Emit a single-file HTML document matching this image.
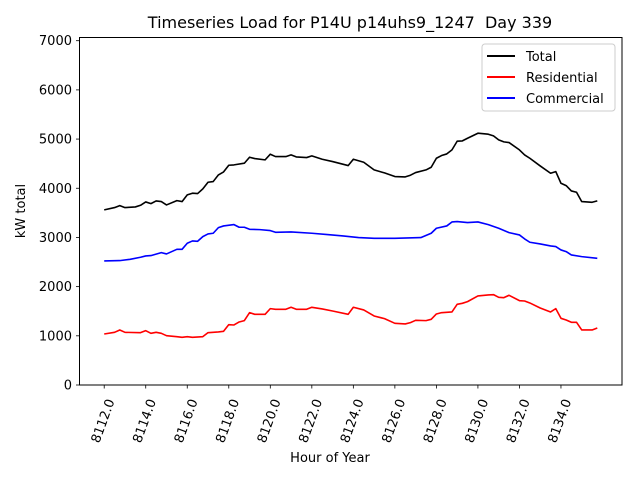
<!DOCTYPE html>
<html><head><meta charset="utf-8"><style>
body{margin:0;background:#fff;}
svg text{font-family:"DejaVu Sans","Liberation Sans",sans-serif;}
</style></head><body>
<svg id="chart" width="640" height="480" xmlns="http://www.w3.org/2000/svg">
<rect width="640" height="480" fill="#fff"/>
<text x="350" y="28" font-size="16" text-anchor="middle">Timeseries Load for P14U p14uhs9_1247 &#160;Day 339</text>
<g id="grid"></g>
<g id="series"></g>
<rect x="79.5" y="37.5" width="542.5" height="347.5" fill="none" stroke="#000" stroke-width="1"/>
<g id="axes"></g>
<text x="330" y="462" font-size="13" text-anchor="middle">Hour of Year</text>
<text x="25" y="211" font-size="13" text-anchor="middle" transform="rotate(-90 25 211)">kW total</text>
<g>
<rect x="482" y="44" width="133" height="67" rx="3" fill="#fff" fill-opacity="0.8" stroke="#ccc"/>
<line x1="487" y1="56" x2="515" y2="56" stroke="#000" stroke-width="2"/>
<text x="526" y="61" font-size="13">Total</text>
<line x1="487" y1="77" x2="515" y2="77" stroke="#f00" stroke-width="2"/>
<text x="526" y="82" font-size="13">Residential</text>
<line x1="487" y1="98" x2="515" y2="98" stroke="#00f" stroke-width="2"/>
<text x="526" y="103" font-size="13">Commercial</text>
</g>
</svg>
<script>
const totalHours=[8112,8112.5,8112.75,8113,8113.5,8113.75,8114,8114.25,8114.5,8114.75,8115,8115.5,8115.75,8116,8116.25,8116.5,8116.75,8117,8117.25,8117.5,8117.75,8118,8118.25,8118.75,8119,8119.25,8119.75,8120,8120.25,8120.75,8121,8121.25,8121.75,8122,8122.5,8123,8123.75,8124,8124.5,8125,8125.5,8126,8126.5,8126.75,8127,8127.5,8127.75,8128,8128.25,8128.5,8128.75,8129,8129.25,8129.5,8130,8130.5,8130.75,8131,8131.25,8131.5,8132,8132.25,8132.5,8133,8133.5,8133.75,8134,8134.25,8134.5,8134.75,8135,8135.5,8135.75];
const totalValues=[3560,3607,3648,3607,3620,3654,3722,3688,3743,3729,3661,3749,3729,3865,3899,3892,3987,4122,4136,4271,4332,4468,4475,4509,4631,4604,4577,4692,4644,4644,4678,4637,4624,4658,4590,4543,4461,4590,4529,4373,4312,4238,4231,4265,4319,4373,4427,4610,4665,4698,4780,4956,4963,5017,5119,5099,5065,4983,4943,4929,4780,4678,4610,4454,4305,4339,4102,4054,3946,3919,3729,3715,3743];
const resHours=[8112,8112.5,8112.75,8113,8113.75,8114,8114.25,8114.5,8114.75,8115,8115.5,8115.75,8116,8116.25,8116.75,8117,8117.5,8117.75,8118,8118.25,8118.5,8118.75,8119,8119.25,8119.75,8120,8120.25,8120.75,8121,8121.25,8121.75,8122,8122.5,8123,8123.75,8124,8124.5,8125,8125.5,8126,8126.5,8126.75,8127,8127.5,8127.75,8128,8128.25,8128.75,8129,8129.25,8129.5,8130,8130.5,8130.75,8131,8131.25,8131.5,8132,8132.25,8132.5,8133,8133.5,8133.75,8134,8134.25,8134.5,8134.75,8135,8135.5,8135.75];
const resValues=[1037,1071,1119,1071,1064,1105,1051,1071,1051,1003,983,970,983,970,983,1064,1078,1092,1227,1220,1281,1309,1471,1437,1437,1553,1539,1539,1580,1539,1539,1580,1546,1505,1437,1580,1526,1403,1349,1254,1241,1268,1315,1309,1336,1444,1471,1485,1641,1661,1695,1810,1831,1837,1783,1776,1824,1715,1708,1668,1566,1485,1553,1356,1322,1275,1275,1119,1119,1159];
const comHours=[8112,8112.75,8113.25,8113.75,8114,8114.25,8114.75,8115,8115.5,8115.75,8116,8116.25,8116.5,8116.75,8117,8117.25,8117.5,8117.75,8118.25,8118.5,8118.75,8119,8119.5,8120,8120.25,8121,8122,8122.75,8123.5,8124.25,8125,8126,8127.25,8127.75,8128,8128.5,8128.75,8129,8129.5,8130,8130.5,8131,8131.5,8132,8132.25,8132.5,8133,8133.5,8133.75,8134,8134.25,8134.5,8135,8135.75];
const comValues=[2522,2529,2556,2597,2624,2631,2692,2665,2759,2759,2882,2929,2922,3017,3071,3085,3200,3234,3261,3207,3207,3166,3159,3139,3105,3112,3085,3058,3031,2997,2983,2983,2997,3085,3187,3234,3315,3322,3302,3315,3261,3187,3098,3051,2970,2902,2868,2827,2814,2746,2712,2644,2610,2576];
const xTicks=[8112,8114,8116,8118,8120,8122,8124,8126,8128,8130,8132,8134];
const yTicks=[0,1000,2000,3000,4000,5000,6000,7000];

const NS="http://www.w3.org/2000/svg";
const X0=79.5,X1=622,Y0=385,Y1=40.7;
const xMin=8110.81,xMax=8136.94,yMin=0,yMax=7000;
function xs(h){return X0+(h-xMin)/(xMax-xMin)*(X1-X0);}
function ys(v){return Y0-(v-yMin)/(yMax-yMin)*(Y0-Y1);}
const axes=document.getElementById('axes'),series=document.getElementById('series');
function mk(tag,attrs,parent){const e=document.createElementNS(NS,tag);for(const k in attrs)e.setAttribute(k,attrs[k]);parent.appendChild(e);return e;}
xTicks.forEach(t=>{
 const x=xs(t);
 const l=mk('line',{x1:x,y1:385,x2:x,y2:388.5,stroke:'#000','stroke-width':0.8},axes);
 
 
 const tx=mk('text',{x:x-1,y:425,'font-size':13,'text-anchor':'middle',transform:`rotate(-70 ${x-1} 421)`},axes);
 tx.textContent=t.toFixed(1);
 
 
});
yTicks.forEach(t=>{
 const y=ys(t);
 const l=mk('line',{x1:76,y1:y,x2:79.5,y2:y,stroke:'#000','stroke-width':0.8},axes);
 
 
 const tx=mk('text',{x:72,y:y+4.5,'font-size':13,'text-anchor':'end'},axes);
 tx.textContent=t;
 
 
});
function line(hs,vs,color,name){
 const p=mk('polyline',{points:hs.map((h,i)=>xs(h)+','+ys(vs[i])).join(' '),fill:'none',stroke:color,'stroke-width':1.6,'stroke-linejoin':'round'},series);
 
 
}
line(totalHours,totalValues,'#000','total-line');
line(resHours,resValues,'#f00','residential-line');
line(comHours,comValues,'#00f','commercial-line');
</script>
</body></html>
